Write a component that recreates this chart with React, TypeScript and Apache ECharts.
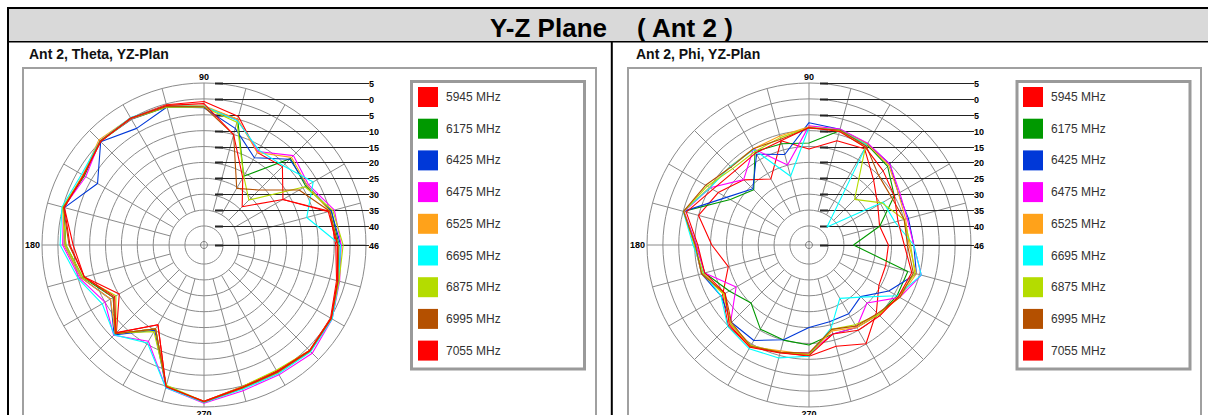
import React, { useEffect, useRef } from 'react';
import * as echarts from 'echarts';

// ---- data ----
const ANGLES = [0, 15, 30, 45, 60, 75, 90, 105, 120, 135, 150, 165, 180, 195, 210, 225, 240, 255, 270, 285, 300, 315, 330, 345];
const FREQS = ['5945 MHz', '6175 MHz', '6425 MHz', '6475 MHz', '6525 MHz', '6695 MHz', '6875 MHz', '6995 MHz', '7055 MHz'];
const COLORS = ['#ff0000', '#009900', '#0038d8', '#ff00ff', '#ffa21a', '#00ffff', '#b4dc00', '#b45000', '#ff0000'];
const RING_TICKS = [5, 0, -5, -10, -15, -20, -25, -30, -35, -40];
const LABEL_TICKS = [5, 0, -5, -10, -15, -20, -25, -30, -35, -40, -46];
const R_MIN = -46;
const R_MAX = 5;
const SPOKE_START = -35;
const ANGLE_LABELS = [90, 180, 270];
const SPOKE_ANGLES = [15, 30, 45, 60, 75, 105, 120, 135, 150, 165, 195, 210, 225, 240, 255, 285, 300, 315, 330, 345];

// Ant 2, Theta, YZ-Plan (dBi at ANGLES)
const theta5945 = [-4.5, -5, -17.3, -11.1, -12.4, -4.1, -0.8, -0.3, 0.2, 0, -2, -0.5, -4.8, -7, -15.2, -7, -17, 0.2, 3.2, 0.2, -0.2, 1, 0, -2.8];
const theta6175 = [-3.5, -4.5, -9, -7.5, -21, -5, -2.5, -1, -0.3, 0.2, -2.5, -0.3, -2.5, -6.5, -13, -6.5, -15.5, 0, 3.4, 0.8, 0.4, 1.3, 0.5, -2.5];
const theta6425 = [-3, -4.5, -8.5, -7.8, -14.3, -8, -2.8, -1, -3.6, 0, -7.3, -0.5, -2, -6, -12, -6, -15, 0.3, 3.5, 0.6, 0.3, 1.2, 0.3, -2];
const theta6475 = [-2.8, -3.5, -8, -6.2, -12, -5.2, -2.5, -0.8, -0.2, 0.3, -3, -0.2, -1.5, -5.5, -10, -5.8, -11, 0.5, 3.8, 1.5, 1.2, 2.2, 0.6, -1.8];
const theta6525 = [-3.8, -5, -8.5, -7, -12.4, -5, -2.2, -0.5, 0.2, 0.8, -2, 0, -2, -6, -12, -6.5, -15.5, 0, 3.5, 0.8, 0.5, 1.3, 0.4, -2.5];
const theta6695 = [-3, -12.5, -6.3, -10.7, -11.5, -5.5, -2.3, -0.6, 0.3, 0.3, -1.5, 0.3, -0.7, -5, -9, -6, -10.4, 0.5, 3.6, 1, 0.8, 1.5, 0.6, -2];
const theta6875 = [-2.2, -4, -9.3, -26, -21, -6, -2.6, -1, 0, 0.2, -2.2, 0, -2.5, -6.5, -14, -6.8, -14.5, -0.3, 3.3, 0.2, -0.5, 1, 0.2, -2];
const theta6995 = [-3.8, -5, -11.4, -21.5, -25.4, -10, -2.5, -0.8, 0, 0.3, -2.2, -0.2, -3.5, -7, -13, -6.5, -15.5, 0, 3.4, 0.6, 0.3, 1.2, 0.3, -2.3];
const theta7055 = [-4, -5.5, -17.3, -29, -21.6, -10, -1.5, -0.5, 0.2, 0, -2.2, -0.5, -3.8, -7, -13.5, -6.8, -17, 0.2, 3.2, 0.4, 0, 1, 0.2, -2.5];

// Ant 2, Phi, YZ-Plan (dBi at ANGLES)
const phi5945 = [-21, -23, -21, -17.2, -11, -12, -15.8, -12, -22, -17, -13, -10, -15.4, -19.7, -14.6, -10, -9, -11, -11, -13, -10.1, -16, -20.6, -21];
const phi6175 = [-32, -22.9, -15, -11, -9.5, -8.8, -13.9, -13, -12, -21.4, -17.4, -5.1, -10.5, -12, -17, -20.2, -15.4, -15, -14.5, -17, -16, -15, -14, -13.8];
const phi6425 = [-13, -13.6, -13.5, -10, -9.2, -8.3, -7.5, -16.5, -13, -21, -16, -5.1, -10, -11, -14, -11.5, -11.3, -15.1, -20, -21, -21, -23, -17, -11];
const phi6475 = [-13, -14, -13, -10, -9, -8.2, -8.5, -19.9, -11, -16.9, -10, -5.3, -10.5, -12, -19.5, -11, -9.5, -11, -12, -17, -16, -20.2, -13, -9.4];
const phi6525 = [-14.5, -14.5, -13.5, -10.5, -9.3, -8.5, -8.8, -10.5, -11, -11, -9.8, -5.1, -10, -11, -15, -11, -9, -11.5, -11.5, -18, -16, -15, -13, -11];
const phi6695 = [-13, -18, -19, -38, -9.6, -8.5, -9, -23.6, -11.3, -11, -10, -5, -9.5, -11.6, -14, -9.8, -8.3, -9.2, -11, -19, -26.6, -22.8, -14, -9.4];
const phi6875 = [-14, -15, -19.5, -25.7, -10.5, -8.8, -9, -11, -12, -12, -9, -5.2, -10, -11.5, -15, -11, -9.5, -11, -11.5, -18.5, -17, -15, -13.5, -11.5];
const phi6995 = [-15, -15, -16, -15, -10, -8.5, -9.2, -11.5, -11, -11.3, -8.4, -5.1, -10.2, -11, -15.5, -11.5, -9.2, -11, -12, -18.5, -16.5, -15.5, -13, -12];
const phi7055 = [-16, -17, -15, -13, -10.5, -9, -9, -12, -12.5, -13, -11, -6, -11, -12, -15.5, -10.5, -8.8, -10.8, -11.2, -17, -15, -14.5, -13.5, -12.5];

const THETA = [theta5945, theta6175, theta6425, theta6475, theta6525, theta6695, theta6875, theta6995, theta7055];
const PHI = [phi5945, phi6175, phi6425, phi6475, phi6525, phi6695, phi6875, phi6995, phi7055];

const TITLE_LEFT = 'Y-Z Plane';
const TITLE_RIGHT = '( Ant 2 )';
const SUBTITLES = ['Ant 2, Theta, YZ-Plan', 'Ant 2, Phi, YZ-Plan'];

const FONT = 'Arial, "Liberation Sans", sans-serif';
const GRID = '#8a8a8a';

export default function App() {
  const ref = useRef<HTMLDivElement>(null);

  useEffect(() => {
    const el = ref.current;
    if (!el) return;
    const chart = echarts.init(el, null, { renderer: 'svg' });

    const plots = [
      { data: THETA, center: [204, 245], legendLeft: 418, sub: SUBTITLES[0], subX: 29, frameX: 23, boxX: 411.5 },
      { data: PHI, center: [809, 245], legendLeft: 1023, sub: SUBTITLES[1], subX: 636, frameX: 628, boxX: 1017 },
    ];

    const series: any[] = [];
    const gridLine = (pi: number, data: any[]) => ({
      type: 'line',
      coordinateSystem: 'polar',
      polarIndex: pi,
      data,
      symbol: 'none',
      silent: true,
      animation: false,
      lineStyle: { color: GRID, width: 1 },
      z: 1,
    });

    plots.forEach((p, pi) => {
      SPOKE_ANGLES.forEach((a) => series.push(gridLine(pi, [[SPOKE_START, a], [R_MAX, a]])));
      series.push(gridLine(pi, [[R_MAX, 180], [R_MIN, 0], [R_MAX, 0]]));
      series.push(gridLine(pi, [[R_MAX, 90], [R_MIN, 0], [R_MAX, 270]]));
      series.push({
        type: 'scatter',
        coordinateSystem: 'polar',
        polarIndex: pi,
        data: [[R_MIN, 0]],
        symbol: 'circle',
        symbolSize: 7,
        silent: true,
        itemStyle: { color: 'rgba(0,0,0,0)', borderColor: '#666', borderWidth: 1 },
        z: 1,
      });
      p.data.forEach((vals, si) => {
        const d = ANGLES.map((a, i) => [vals[i], a]);
        d.push([vals[0], 360]);
        series.push({
          type: 'line',
          name: FREQS[si],
          coordinateSystem: 'polar',
          polarIndex: pi,
          data: d,
          symbol: 'none',
          showSymbol: false,
          smooth: false,
          color: COLORS[si],
          lineStyle: { color: COLORS[si], width: 1.1 },
          itemStyle: { color: COLORS[si] },
          z: 3,
        });
      });
    });

    const option: any = {
      animation: false,
      backgroundColor: '#ffffff',
      polar: plots.map((p) => ({ center: p.center, radius: 162 })),
      radiusAxis: plots.map((_, pi) => ({
        polarIndex: pi,
        type: 'value',
        min: R_MIN,
        max: R_MAX,
        axisLine: { show: false },
        axisTick: { show: false, customValues: RING_TICKS },
        axisLabel: { show: false },
        splitLine: { show: true, lineStyle: { color: GRID, width: 1 } },
      })),
      angleAxis: plots.map((_, pi) => ({
        polarIndex: pi,
        type: 'value',
        min: 0,
        max: 360,
        interval: 15,
        startAngle: 0,
        clockwise: false,
        axisLine: { show: false },
        axisTick: { show: false },
        splitLine: { show: false },
        axisLabel: {
          show: true,
          margin: 2,
          formatter: (v: number) => (ANGLE_LABELS.includes(v) ? String(v) : ''),
          fontSize: 9,
          fontWeight: 'bold',
          fontFamily: FONT,
          color: '#000',
        },
      })),
      legend: plots.map((p) => ({
        data: FREQS,
        orient: 'vertical',
        left: p.legendLeft,
        top: 87,
        padding: 0,
        itemWidth: 20,
        itemHeight: 20,
        itemGap: 11.7,
        icon: 'rect',
        selectedMode: false,
        textStyle: { fontFamily: FONT, fontSize: 12, color: '#333', padding: [0, 0, 0, 3] },
      })),
      series,
    };

    chart.setOption(option);

    const gfx: any[] = [];
    // table / title band
    gfx.push({ type: 'rect', shape: { x: 9, y: 9, width: 1199, height: 32 }, style: { fill: '#d9d9d9' }, z: 0 });
    gfx.push({ type: 'line', shape: { x1: 7, y1: 8, x2: 1208, y2: 8 }, style: { stroke: '#000', lineWidth: 2 }, z: 5 });
    gfx.push({ type: 'line', shape: { x1: 8, y1: 7, x2: 8, y2: 415 }, style: { stroke: '#000', lineWidth: 2 }, z: 5 });
    gfx.push({ type: 'line', shape: { x1: 8, y1: 41.8, x2: 1208, y2: 41.8 }, style: { stroke: '#000', lineWidth: 1.5 }, z: 5 });
    gfx.push({ type: 'line', shape: { x1: 611.8, y1: 41, x2: 611.8, y2: 415 }, style: { stroke: '#000', lineWidth: 2 }, z: 5 });
    gfx.push({
      type: 'text', x: 607, y: 27.5, z: 5,
      style: { text: TITLE_LEFT, font: `bold 26px ${FONT}`, fill: '#000', align: 'right', textAlign: 'right', verticalAlign: 'middle', textVerticalAlign: 'middle' },
    });
    gfx.push({
      type: 'text', x: 637, y: 27.5, z: 5,
      style: { text: TITLE_RIGHT, font: `bold 26px ${FONT}`, fill: '#000', align: 'left', textAlign: 'left', verticalAlign: 'middle', textVerticalAlign: 'middle' },
    });

    plots.forEach((p, pi) => {
      gfx.push({
        type: 'text', x: p.subX, y: 54.4, z: 5,
        style: { text: p.sub, font: `bold 14px ${FONT}`, fill: '#111', align: 'left', textAlign: 'left', verticalAlign: 'middle', textVerticalAlign: 'middle' },
      });
      gfx.push({
        type: 'rect', z: 0,
        shape: { x: p.frameX, y: 68, width: 573, height: 400 },
        style: { fill: 'none', stroke: '#a0a0a0', lineWidth: 2 },
      });
      gfx.push({
        type: 'rect', z: 0,
        shape: { x: p.boxX, y: 81.5, width: 173, height: 287.5 },
        style: { fill: 'none', stroke: '#9a9a9a', lineWidth: 3 },
      });
      LABEL_TICKS.forEach((v) => {
        const pt: any = chart.convertToPixel({ polarIndex: pi } as any, [v, 90]);
        if (!pt) return;
        const x0 = pt[0];
        const y0 = Math.round(pt[1]) + 0.5;
        gfx.push({ type: 'line', z: 2, shape: { x1: x0 + 11, y1: y0, x2: x0 + 165, y2: y0 }, style: { stroke: '#222', lineWidth: 1 } });
        gfx.push({ type: 'line', z: 2, shape: { x1: x0 + 11, y1: y0, x2: x0 + 19, y2: y0 }, style: { stroke: '#222', lineWidth: 2 } });
        gfx.push({
          type: 'text', x: x0 + 165, y: y0, z: 5,
          style: { text: String(Math.abs(v)), font: `bold 9px ${FONT}`, fill: '#000', align: 'left', textAlign: 'left', verticalAlign: 'middle', textVerticalAlign: 'middle' },
        });
      });
    });

    chart.setOption({ graphic: gfx });

    return () => chart.dispose();
  }, []);

  return <div ref={ref} style={{ position: 'fixed', left: 0, top: 0, width: 1208, height: 415, background: '#fff' }} />;
}
